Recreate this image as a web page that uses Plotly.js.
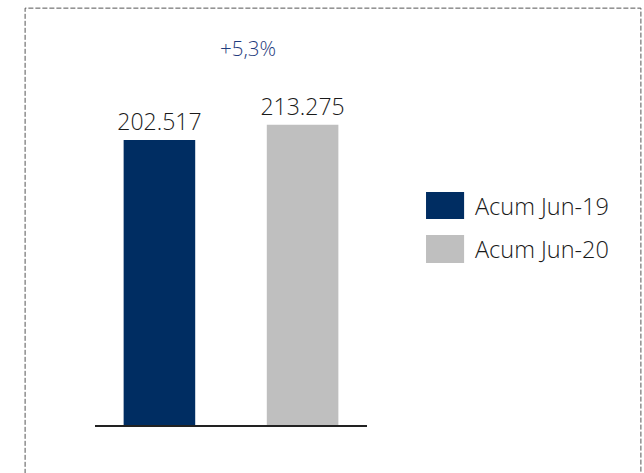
<!DOCTYPE html>
<html>
<head>
<meta charset="utf-8">
<script src="https://cdn.plot.ly/plotly-3.0.1.min.js"></script>
<style>
  html, body { margin: 0; padding: 0; background: #fff; }
  #chart { width: 644px; height: 473px; }
</style>
</head>
<body>
<div id="chart"></div>
<script>
// data
const categories = ["Acum Jun-19", "Acum Jun-20"];
const values = [202517, 213275];
const barColors = ["#002D62", "#BFBFBF"];

const FONT = "Open Sans, Noto Sans, sans-serif";

// growth label, e.g. "+5,3%"
const growth = (values[1] / values[0] - 1) * 100;
const growthText = (growth >= 0 ? "+" : "") + growth.toFixed(1).replace(".", ",") + "%";

const traces = [{
  type: "bar",
  x: categories,
  y: values,
  width: 0.5,
  marker: { color: barColors },
  texttemplate: "%{y:,.0f}",
  textposition: "outside",
  constraintext: "none",
  cliponaxis: false,
  textfont: { family: FONT, size: 23, color: "#1a1a1a", weight: 300 },
  hoverinfo: "skip",
  showlegend: false,
}];

// hand-drawn legend (large swatches) to the right of the plot
const legendShapes = [], legendNotes = [];
const legRows = [[0.6366, 0.5628], [0.519, 0.4426]];
categories.forEach((name, i) => {
  const [y1, y0] = legRows[i];
  legendShapes.push({
    type: "rect", xref: "paper", yref: "paper",
    x0: 1.217, x1: 1.357, y0: y0, y1: y1,
    fillcolor: barColors[i], line: { width: 0 },
  });
  legendNotes.push({
    xref: "paper", yref: "paper", x: 1.39, y: (y0 + y1) / 2,
    xanchor: "left", yanchor: "middle", showarrow: false,
    text: name, font: { family: FONT, size: 23.5, color: "#1a1a1a", weight: 300 },
  });
});

const layout = {
  width: 644,
  height: 473,
  margin: { l: 95, r: 277, t: 59, b: 48 },
  paper_bgcolor: "#ffffff",
  plot_bgcolor: "#ffffff",
  separators: ",.",
  showlegend: false,
  bargap: 0.5,
  xaxis: {
    range: [-0.45, 1.45],
    showticklabels: false,
    ticks: "",
    showgrid: false,
    zeroline: false,
    showline: true,
    linecolor: "#222222",
    linewidth: 2,
    fixedrange: true,
  },
  yaxis: {
    range: [0, 260000],
    visible: false,
    showgrid: false,
    zeroline: false,
    fixedrange: true,
  },
  shapes: [
    // dashed frame around the whole figure
    {
      type: "rect", xref: "paper", yref: "paper",
      x0: -0.257, x1: 2.007, y0: -0.3, y1: 1.139,
      line: { color: "#555555", width: 1, dash: "5px,2px" },
      fillcolor: "rgba(0,0,0,0)",
    },
  ].concat(legendShapes),
  annotations: [
    {
      xref: "paper", yref: "paper", x: 0.5625, y: 1.03,
      xanchor: "center", yanchor: "middle", showarrow: false,
      text: growthText,
      font: { family: FONT, size: 20.5, color: "#1F3C7E", weight: 300 },
    },
  ].concat(legendNotes),
};

Plotly.newPlot("chart", traces, layout, { displayModeBar: false, staticPlot: true });
</script>
</body>
</html>
